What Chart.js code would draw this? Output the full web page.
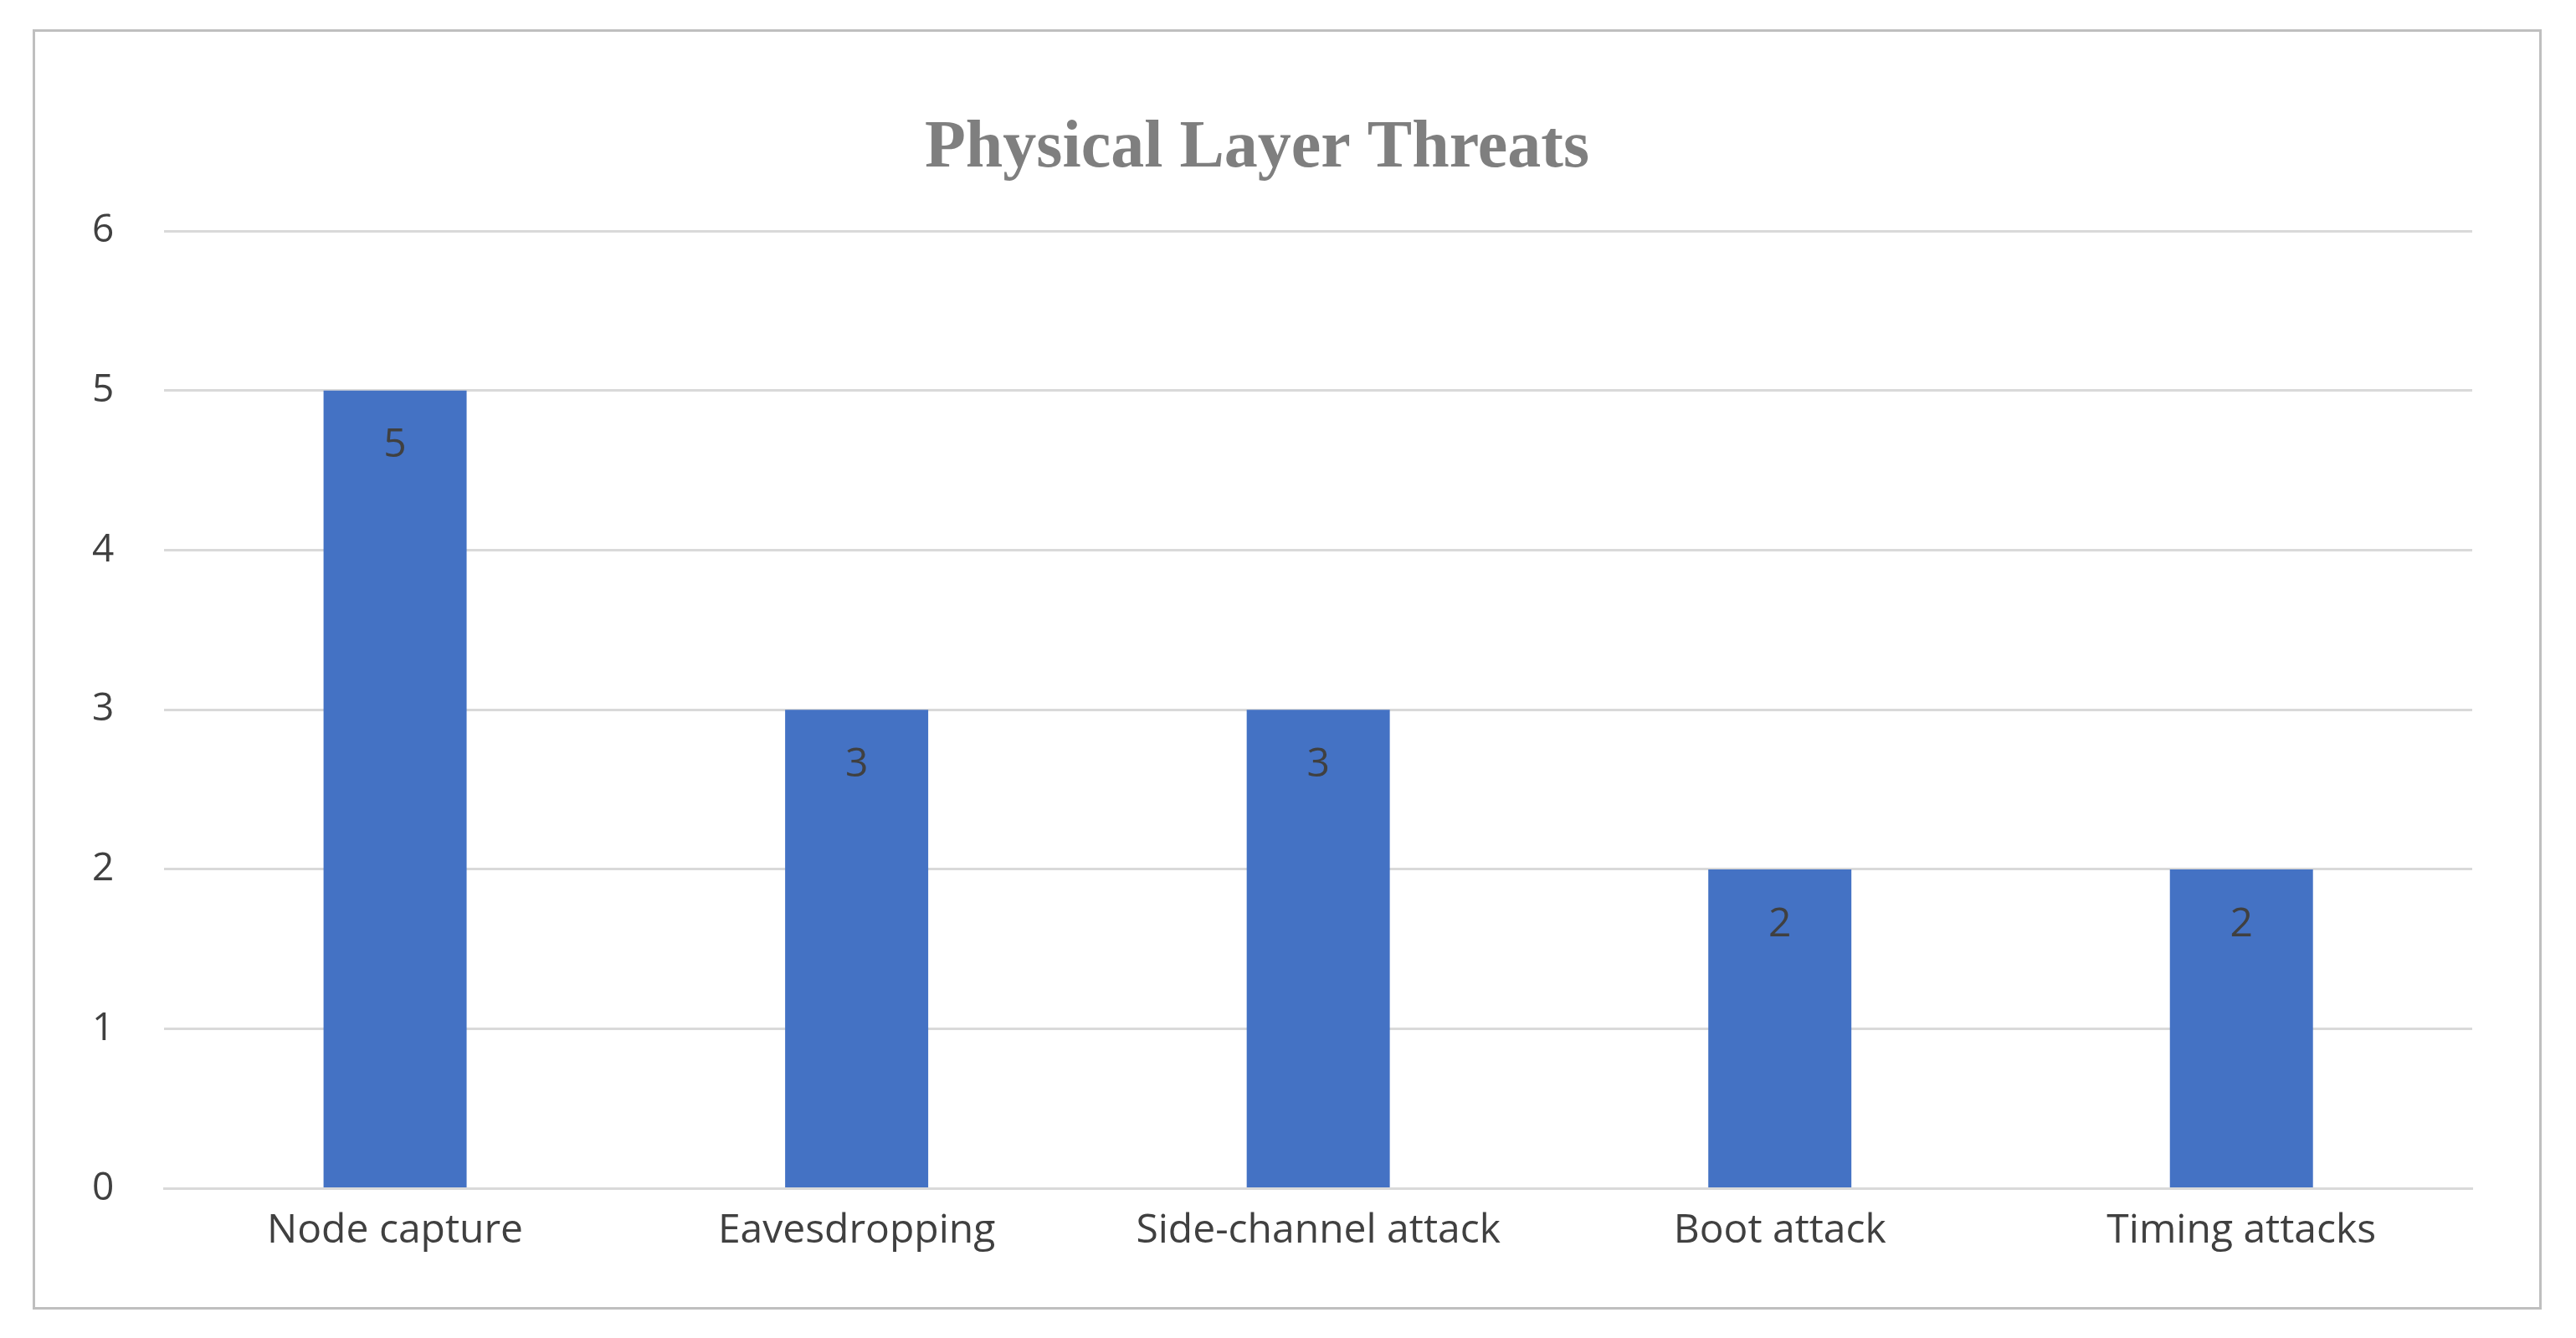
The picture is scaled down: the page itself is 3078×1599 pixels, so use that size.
<!DOCTYPE html>
<html><head><meta charset="utf-8">
<script src="https://cdn.jsdelivr.net/npm/chart.js@4/dist/chart.umd.min.js"></script>
<style>
html,body{margin:0;padding:0;background:#fff;}
#wrap{position:absolute;left:0;top:0;width:3078px;height:1599px;}
#frame{position:absolute;left:39px;top:35px;width:2998px;height:1530px;border:3px solid #bfbfbf;box-sizing:border-box;}
canvas{position:absolute;left:0;top:0;}
</style></head><body>
<div id="wrap"><div id="frame"></div><canvas id="c" width="3078" height="1599"></canvas></div>
<script>
const categories = ["Node capture","Eavesdropping","Side-channel attack","Boot attack","Timing attacks"];
const values = [5,3,3,2,2];
const titleText = "Physical Layer Threats";

const labelPlugin = {
  id:'vals',
  afterDatasetsDraw(chart){
    const ctx=chart.ctx, meta=chart.getDatasetMeta(0);
    ctx.save();
    ctx.fillStyle='#404040';
    ctx.font='48px "Open Sans", sans-serif';
    ctx.textAlign='center'; ctx.textBaseline='middle';
    meta.data.forEach((b,i)=>{ ctx.fillText(String(values[i]), b.x, b.y+66); });
    ctx.restore();
  }
};

new Chart(document.getElementById('c'),{
  type:'bar',
  data:{labels:categories,datasets:[{data:values,backgroundColor:'#4472C4',barPercentage:0.62,categoryPercentage:0.5}]},
  options:{
    responsive:false,animation:false,devicePixelRatio:1,
    layout:{padding:{left:50,right:124,top:130,bottom:85}},
    plugins:{legend:{display:false},tooltip:{enabled:false},
      title:{display:true,text:titleText,color:'#7f7f7f',font:{family:'"Liberation Serif", serif',size:80,weight:'bold'},padding:{top:0,bottom:50}}},
    scales:{
      x:{grid:{display:false},border:{color:'#d9d9d9',width:3},
        ticks:{color:'#404040',font:{family:'"Open Sans", sans-serif',size:48},padding:14}},
      y:{min:0,max:6,ticks:{stepSize:1,color:'#404040',font:{family:'"Open Sans", sans-serif',size:46},padding:60},
        grid:{color:'#d9d9d9',lineWidth:3,drawTicks:false},border:{display:false}}
    }
  },
  plugins:[labelPlugin]
});
</script></body></html>
